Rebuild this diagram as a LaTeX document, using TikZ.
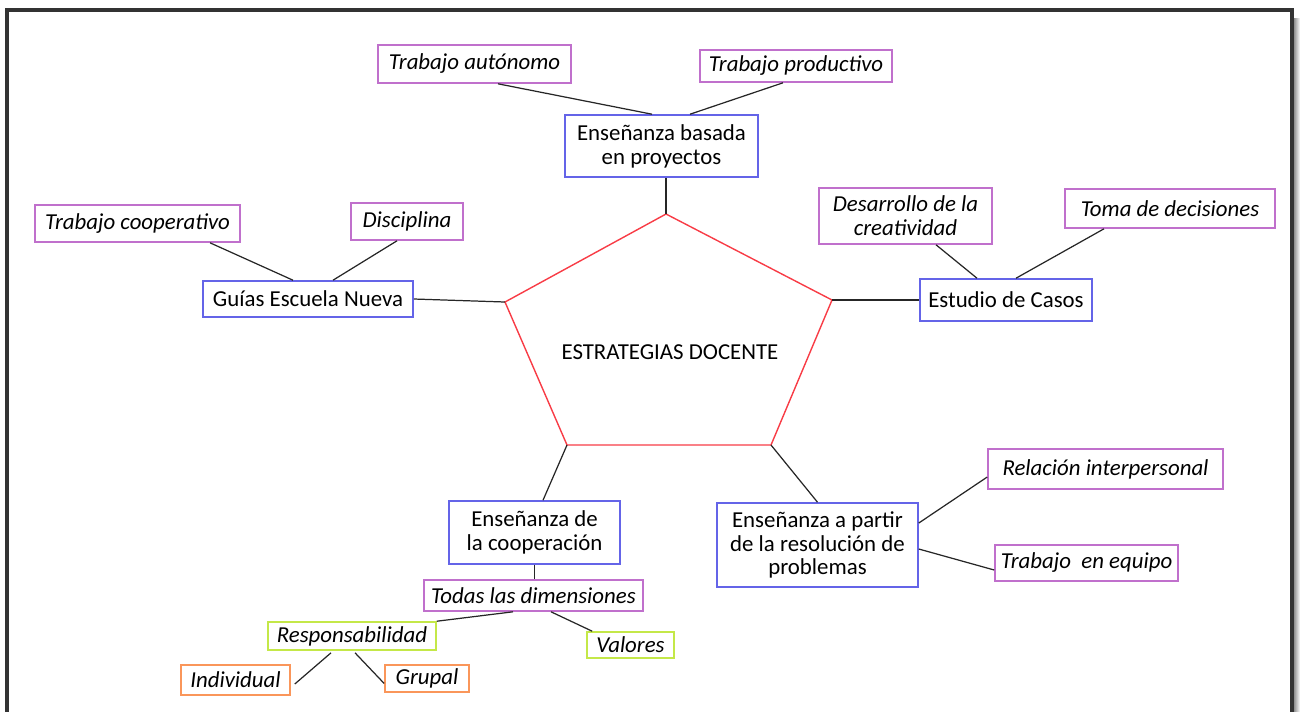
\documentclass[tikz,border=0pt]{standalone}
\usepackage{fontspec}
\setmainfont{Carlito}
\usetikzlibrary{calc}
\definecolor{boxblue}{RGB}{100,100,232}
\definecolor{boxlila}{RGB}{192,112,204}
\definecolor{boxgreen}{RGB}{196,232,72}
\definecolor{boxorange}{RGB}{250,150,90}
\definecolor{pentred}{RGB}{248,60,70}
\begin{document}
\begin{tikzpicture}[x=0.02cm,y=-0.02cm,
    wh/.style 2 args={minimum width=#1*0.02cm,minimum height=#2*0.02cm},
    main/.style={draw=boxblue,line width=0.9pt,align=center,inner sep=0pt,font=\fontsize{13}{13.6}\selectfont},
    sub/.style={draw=boxlila,line width=0.9pt,align=center,inner sep=0pt,font=\fontsize{13}{13.6}\selectfont\itshape},
    subg/.style={sub,draw=boxgreen},
    subo/.style={sub,draw=boxorange},
    conn/.style={draw=black!85,line width=0.7pt}]
    \useasboundingbox (0,0) rectangle (1300,711);
    % frame
    \fill[left color=black!50,right color=white] (1293,18) rectangle (1300,730);
    \draw[line width=2pt,black!80] (7,10) rectangle (1292,730);
    % centre
    \coordinate (p1) at (666,214);
    \coordinate (p2) at (832,300);
    \coordinate (p3) at (771,445);
    \coordinate (p4) at (567,445);
    \coordinate (p5) at (505,302);
    \draw[pentred,line width=0.8pt] (p1) -- (p2) -- (p3) -- (p4) -- (p5) -- cycle;
    \node (ed) at (670,352) [font=\fontsize{13}{13.6}\selectfont] {ESTRATEGIAS DOCENTE};
    % main boxes
    \node[main,wh={193}{62}] (ebp) at (661.5,146) {Enseñanza basada\\ en proyectos};
    \node[main,wh={210}{36}] (gen) at (308,299) {Guías Escuela Nueva};
    \node[main,wh={172}{42}] (edc) at (1006,300) {Estudio de Casos};
    \node[main,wh={171}{63}] (ec) at (534.5,532.5) {Enseñanza de\\ la cooperación};
    \node[main,wh={201}{84}] (erp) at (817.5,545) {Enseñanza a partir\\ de la resolución de\\ problemas};
    % sub boxes
    \node[sub,wh={193}{38}] (ta) at (474.5,64) {Trabajo autónomo};
    \node[sub,wh={192}{32}] (tp) at (796,66) {Trabajo productivo};
    \node[sub,wh={205}{37}] (tc) at (137.5,223.5) {Trabajo cooperativo};
    \node[sub,wh={112}{37}] (di) at (407,221.5) {Disciplina};
    \node[sub,wh={173}{56}] (dc) at (905.5,216) {Desarrollo de la\\ creatividad};
    \node[sub,wh={210}{39}] (td) at (1170,208.5) {Toma de decisiones};
    \node[sub,wh={235}{40}] (ri) at (1105.5,469) {Relación interpersonal};
    \node[sub,wh={183}{36}] (te) at (1086.5,563) {Trabajo\ \ en equipo};
    \node[sub,wh={219}{31}] (tld) at (533.5,595.5) {Todas las dimensiones};
    \node[subg,wh={168}{28}] (re) at (352,636) {Responsabilidad};
    \node[subg,wh={87}{26}] (va) at (630.5,645) {Valores};
    \node[subo,wh={109}{30}] (in) at (235.5,680) {Individual};
    \node[subo,wh={84}{27}] (gr) at (427,678.5) {Grupal};
    % connectors
    \path[conn]
    ($(ta.south)+(23.5,0)$) edge ($(ebp.north)+(-9.5,0)$)
    ($(tp.south)+(-13,0)$) edge ($(ebp.north)+(28.5,0)$)
    (ebp.south -| p1) edge (p1)
    ($(tc.south)+(72.5,0)$) edge ($(gen.north)+(-15,0)$)
    ($(di.south)+(-10,0)$) edge ($(gen.north)+(25,0)$)
    (gen.east) edge (p5)
    ($(dc.south)+(30.5,0)$) edge ($(edc.north)+(-29,0)$)
    ($(td.south)+(-66,0)$) edge ($(edc.north)+(10,0)$)
    (p2) edge (edc.west)
    (p4) edge ($(ec.north)+(8.5,0)$)
    (p3) edge (erp.north)
    ($(erp.east)+(0,-22)$) edge ($(ri.west)+(0,8)$)
    ($(erp.east)+(0,4)$) edge ($(te.west)+(0,7)$)
    (ec.south) edge (ec.south |- tld.north)
    ($(tld.south)+(-20.5,0)$) edge (re.north east)
    ($(tld.south)+(17.5,0)$) edge ($(va.north west)+(6,0)$)
    ($(re.south)+(-21,2)$) edge ($(in.east)+(4,4)$)
    ($(re.south)+(3,2)$) edge ($(gr.west)+(0,5)$);
\end{tikzpicture}
\end{document}
